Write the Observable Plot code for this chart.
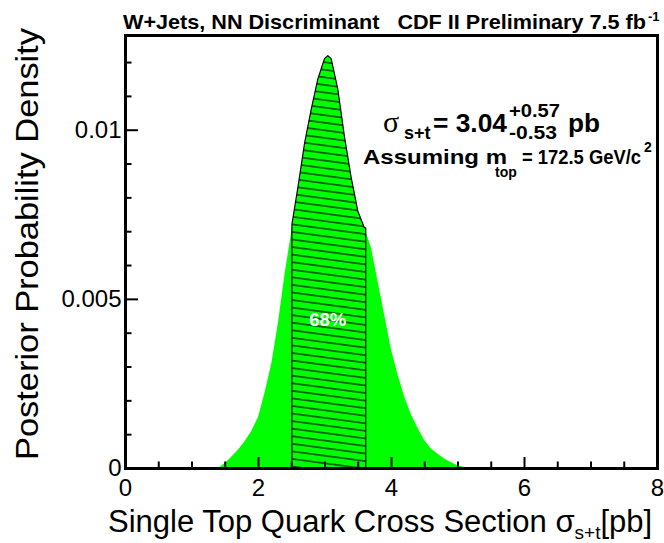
<!DOCTYPE html>
<html><head><meta charset="utf-8">
<script src="https://cdn.jsdelivr.net/npm/d3@7"></script>
<script src="https://cdn.jsdelivr.net/npm/@observablehq/plot@0.6"></script>
<style>html,body{margin:0;padding:0;background:#fff;} svg{display:block}</style>
</head><body><div id="chart"></div>
<script>
// Posterior density of the single top cross section
const sigma   = [1.4, 1.5, 1.6, 1.7, 1.8, 1.9, 2.0, 2.1, 2.2, 2.3, 2.4, 2.5, 2.6, 2.7, 2.8, 2.9, 3.0, 3.05, 3.1, 3.2, 3.3, 3.4, 3.5, 3.6, 3.7, 3.8, 3.9, 4.0, 4.1, 4.2, 4.3, 4.4, 4.5, 4.6, 4.7, 4.8, 4.9, 5.0, 5.1, 5.2];
const density = [0, 0.00015, 0.00034, 0.00055, 0.00080, 0.00110, 0.00151, 0.00225, 0.00310, 0.00430, 0.00575, 0.00700, 0.00830, 0.00960, 0.01060, 0.01150, 0.01210, 0.01219, 0.01210, 0.01120, 0.00980, 0.00860, 0.00760, 0.00710, 0.00650, 0.00550, 0.00450, 0.00350, 0.00275, 0.00210, 0.00158, 0.00118, 0.00082, 0.00058, 0.00042, 0.00028, 0.00017, 0.00008, 0.00003, 0];

// 68% credible interval
const bandLow = 2.51, bandHigh = 3.62;
const bandLowDensity = 0.0072, bandHighDensity = 0.0071;
const bandLabel = "68%";
const bandLabelX = 3.04, bandLabelY = 0.0044;

// axes
const xDomain = [0, 8];
const yDomain = [0, 0.0128];
const xMajorTicks = [0, 2, 4, 6, 8];
const xTickLabels = ["0", "2", "4", "6", "8"];
const xMinorTicks = [0.5, 1, 1.5, 2.5, 3, 3.5, 4.5, 5, 5.5, 6.5, 7, 7.5];
const yMajorTicks = [0, 0.005, 0.01];
const yTickLabels = ["0", "0.005", "0.01"];
const yMinorTicks = [0.001, 0.002, 0.003, 0.004, 0.006, 0.007, 0.008, 0.009, 0.011, 0.012];

const curve = sigma.map((x, i) => ({x, y: density[i]}));
const band = [
  {x: bandLow, y: bandLowDensity},
  ...curve.filter(d => d.x > bandLow && d.x < bandHigh),
  {x: bandHigh, y: bandHighDensity}
];

const FONT = "'Liberation Sans', Arial, Helvetica, sans-serif";
const W = 664, H = 543, ML = 125, MR = 7, MT = 35, MB = 75;
const frameW = W - ML - MR, frameH = H - MT - MB;
const perPxY = (yDomain[1] - yDomain[0]) / frameH;   // data units per pixel
const perPxX = (xDomain[1] - xDomain[0]) / frameW;

const svg = Plot.plot({
  width: W, height: H,
  marginLeft: ML, marginRight: MR, marginTop: MT, marginBottom: MB,
  x: {domain: xDomain},
  y: {domain: yDomain},
  style: {fontFamily: FONT, fontSize: "24px", background: "white", color: "black", overflow: "visible"},
  marks: [
    Plot.areaY(curve, {x: "x", y: "y", fill: "#00ff00"}),
    Plot.areaY(band, {x: "x", y: "y", fill: "url(#hatch)", stroke: "black", strokeWidth: 1.2}),
    Plot.text([{x: bandLabelX, y: bandLabelY}], {x: "x", y: "y", text: () => bandLabel, fill: "white", fontWeight: "bold", fontSize: 18.5}),
    // inward tick marks (lengths 11/6 px on x, 13/6.5 px on y)
    Plot.ruleX(xMajorTicks, {x: d => d, y1: yDomain[0], y2: yDomain[0] + 11 * perPxY, stroke: "black", strokeWidth: 2}),
    Plot.ruleX(xMinorTicks, {x: d => d, y1: yDomain[0], y2: yDomain[0] + 6.5 * perPxY, stroke: "black", strokeWidth: 2}),
    Plot.ruleY(yMajorTicks, {y: d => d, x1: xDomain[0], x2: xDomain[0] + 13 * perPxX, stroke: "black", strokeWidth: 2}),
    Plot.ruleY(yMinorTicks, {y: d => d, x1: xDomain[0], x2: xDomain[0] + 6.5 * perPxX, stroke: "black", strokeWidth: 2}),
    // tick labels
    Plot.axisX(xMajorTicks, {tickSize: 0, tickPadding: 10, tickFormat: d => xTickLabels[xMajorTicks.indexOf(d)], fontSize: 24, label: null}),
    Plot.axisY(yMajorTicks, {tickSize: 0, tickPadding: 4, tickFormat: d => yTickLabels[yMajorTicks.indexOf(d)], fontSize: 24, label: null}),
    Plot.frame({stroke: "black", strokeWidth: 3})
  ]
});

const s = d3.select(svg);
s.insert("defs", ":first-child").html(
  '<pattern id="hatch" patternUnits="userSpaceOnUse" width="12" height="7.5" patternTransform="rotate(7.6)">' +
  '<line x1="-1" y1="3.75" x2="13" y2="3.75" stroke="black" stroke-width="1.1"/></pattern>');

function addText(x, y, str, opts = {}) {
  const t = s.append("text").attr("x", x).attr("y", y)
    .attr("text-anchor", opts.anchor || "start")
    .attr("font-family", opts.family || FONT)
    .attr("font-size", opts.size || 20)
    .attr("font-weight", opts.weight || "normal")
    .attr("fill", "black")
    .text(str);
  if (opts.len) t.attr("textLength", opts.len).attr("lengthAdjust", "spacingAndGlyphs");
  return t;
}

// Title
addText(123, 29, "W+Jets, NN Discriminant   CDF II Preliminary 7.5 fb", {size: 21, weight: "bold", len: 523})
  .attr("xml:space", "preserve");
addText(648, 21, "-1", {size: 13, weight: "bold"});

// Result annotation
addText(383, 132, "σ", {size: 30, family: "'Liberation Serif', 'DejaVu Serif', serif"});
addText(404, 139, "s+t", {size: 18, weight: "bold"});
addText(433, 132, "= 3.04", {size: 26, weight: "bold", len: 74});
addText(509, 117, "+0.57", {size: 18.5, weight: "bold", len: 51});
addText(509, 139, "-0.53", {size: 18.5, weight: "bold", len: 48});
addText(568, 132, "pb", {size: 26, weight: "bold", len: 32});

addText(363, 164, "Assuming m", {size: 21, weight: "bold", len: 144});
addText(495, 177, "top", {size: 14, weight: "bold"});
addText(522, 164, "= 172.5 GeV/c", {size: 20.5, weight: "bold", len: 119});
addText(644, 152, "2", {size: 14, weight: "bold"});

// Axis titles
s.append("text").attr("transform", "translate(38,244) rotate(-90)")
  .attr("text-anchor", "middle").attr("font-family", FONT).attr("font-size", 32)
  .attr("textLength", 432).attr("lengthAdjust", "spacingAndGlyphs").attr("fill", "black")
  .text("Posterior Probability Density");

const xl = s.append("text").attr("x", 108).attr("y", 532).attr("text-anchor", "start")
  .attr("font-family", FONT).attr("font-size", 31).attr("fill", "black");
xl.append("tspan").attr("xml:space", "preserve").text("Single Top Quark Cross Section ");
xl.append("tspan").text("σ");
xl.append("tspan").attr("font-size", 19).attr("dy", 7).text("s+t");
xl.append("tspan").attr("dy", -7).text("[pb]");

document.getElementById("chart").appendChild(svg);
</script>
</body></html>
